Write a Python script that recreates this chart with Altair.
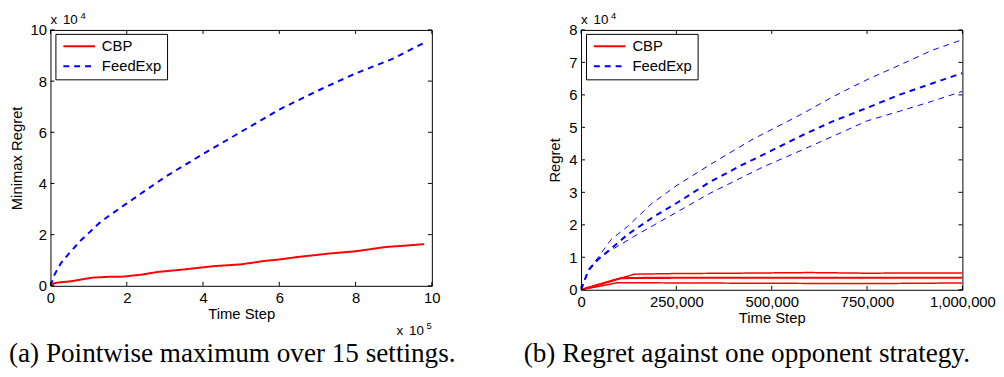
import altair as alt
import pandas as pd

# ---------------- Panel (a): pointwise maximum ----------------
a_cbp_t = [0, 10000, 20000, 50000, 70000, 110000, 150000, 190000, 240000, 280000, 350000,
           430000, 500000, 560000, 600000, 650000, 730000, 800000, 880000, 930000, 980000]
a_cbp_v = [0, 1000, 1300, 1700, 2200, 3200, 3500, 3600, 4400, 5400, 6400,
           7700, 8400, 9700, 10300, 11300, 12600, 13500, 15200, 15700, 16300]
a_fe_t = [0, 11000, 28000, 50000, 80000, 100000, 128000, 150000, 200000, 300000, 400000,
          500000, 600000, 700000, 800000, 900000, 980000]
a_fe_v = [0, 4500, 9000, 12900, 17800, 20600, 24500, 27000, 32200, 42500, 51500,
          60200, 68900, 76200, 83000, 88900, 95000]
a_xticks = [0, 200000, 400000, 600000, 800000, 1000000]
a_yticks = [0, 20000, 40000, 60000, 80000, 100000]

# ---------------- Panel (b): one opponent strategy ----------------
b_fe_up_t = [0, 19000, 45000, 79000, 122000, 185000, 252000, 356000, 451000, 511000,
             577000, 663000, 750000, 836000, 922000, 1000000]
b_fe_up_v = [0, 6200, 10000, 15500, 19500, 26500, 32200, 39800, 46400, 50000,
             54000, 59600, 64700, 69200, 73800, 77000]
b_fe_mid_t = [0, 19000, 45000, 71000, 97000, 122000, 192000, 252000, 338000, 425000,
              490000, 577000, 663000, 750000, 836000, 922000, 1000000]
b_fe_mid_v = [0, 5900, 9400, 11900, 14500, 17000, 22600, 26800, 33200, 38600,
              42300, 47400, 52000, 56000, 60100, 63600, 66700]
b_fe_low_t = [0, 19000, 45000, 71000, 105000, 150000, 209000, 338000, 477000, 577000,
              663000, 750000, 836000, 922000, 1000000]
b_fe_low_v = [0, 5900, 9400, 11700, 14000, 17200, 21100, 29700, 37800, 42900,
              47400, 52000, 55000, 58100, 61100]
b_cbp_up_t = [0, 140000, 250000, 400000, 600000, 750000, 900000, 1000000]
b_cbp_up_v = [0, 4800, 5000, 5100, 5300, 5100, 5200, 5200]
b_cbp_mid_t = [0, 105000, 250000, 500000, 750000, 1000000]
b_cbp_mid_v = [0, 3600, 3700, 3700, 3700, 3700]
b_cbp_low_t = [0, 97000, 250000, 500000, 750000, 1000000]
b_cbp_low_v = [0, 2200, 2100, 2000, 1900, 2100]
b_xticks = [0, 250000, 500000, 750000, 1000000]
b_yticks = [0, 10000, 20000, 30000, 40000, 50000, 60000, 70000, 80000]

series = ["CBP", "FeedExp"]
colors = ["#ff0000", "#0000ff"]
dashes = [[1, 0], [6, 5]]

caption_a = "(a)  Pointwise maximum over 15 settings."
caption_b = "(b)  Regret against one opponent strategy."

SANS = "Liberation Sans"
SERIF = "Liberation Serif"

W = 386
HA = 259
HB = 263


def frame_df(t, v, s, run, w):
    return pd.DataFrame({"t": t, "v": v, "series": s, "run": run, "w": w})


df_a = pd.concat([
    frame_df(a_cbp_t, a_cbp_v, "CBP", "a", 2),
    frame_df(a_fe_t, a_fe_v, "FeedExp", "b", 2),
])
df_b = pd.concat([
    frame_df(b_cbp_up_t, b_cbp_up_v, "CBP", "c1", 1.5),
    frame_df(b_cbp_mid_t, b_cbp_mid_v, "CBP", "c2", 2.2),
    frame_df(b_cbp_low_t, b_cbp_low_v, "CBP", "c3", 1.5),
    frame_df(b_fe_up_t, b_fe_up_v, "FeedExp", "f1", 1),
    frame_df(b_fe_mid_t, b_fe_mid_v, "FeedExp", "f2", 2),
    frame_df(b_fe_low_t, b_fe_low_v, "FeedExp", "f3", 1),
])


def panel(df, H, xdom, ydom, xticks, yticks, xaxis, yaxis, caption, cap_x, extras):
    xs = alt.Scale(domain=xdom, nice=False, zero=False)
    ys = alt.Scale(domain=ydom, nice=False, zero=False)
    leg = alt.Legend(title=None, orient="none", legendX=5, legendY=4)
    lines = alt.Chart(df).mark_line(clip=True).encode(
        x=alt.X("t:Q", scale=xs, axis=xaxis),
        y=alt.Y("v:Q", scale=ys, axis=yaxis),
        color=alt.Color("series:N", scale=alt.Scale(domain=series, range=colors), legend=leg),
        strokeDash=alt.StrokeDash("series:N", scale=alt.Scale(domain=series, range=dashes), legend=leg),
        strokeWidth=alt.StrokeWidth("w:Q", scale=None, legend=None),
        detail="run:N",
    )
    xt = pd.DataFrame({"t": xticks})
    yt = pd.DataFrame({"v": yticks})
    tb = alt.Chart(xt).mark_rule(color="black", strokeWidth=1).encode(
        x=alt.X("t:Q", scale=xs, axis=xaxis), y=alt.value(H), y2=alt.value(H - 4))
    tt = alt.Chart(xt).mark_rule(color="black", strokeWidth=1).encode(
        x=alt.X("t:Q", scale=xs, axis=xaxis), y=alt.value(0), y2=alt.value(4))
    tl = alt.Chart(yt).mark_rule(color="black", strokeWidth=1).encode(
        y=alt.Y("v:Q", scale=ys, axis=yaxis), x=alt.value(0), x2=alt.value(4))
    tr = alt.Chart(yt).mark_rule(color="black", strokeWidth=1).encode(
        y=alt.Y("v:Q", scale=ys, axis=yaxis), x=alt.value(W - 4), x2=alt.value(W))
    texts = []
    for (txt, x, y, size, font) in extras + [(caption, cap_x, 336, 27.5, SERIF)]:
        texts.append(
            alt.Chart(pd.DataFrame({"label": [txt]})).mark_text(
                align="left", baseline="alphabetic", fontSize=size, font=font, color="black"
            ).encode(text="label:N", x=alt.value(x), y=alt.value(y))
        )
    return alt.layer(lines, tb, tt, tl, tr, *texts).properties(width=W, height=H)


def expo(x0, y0, sup):
    return [("x", x0, y0, 13.5, SANS), ("10", x0 + 12.6, y0, 13.5, SANS), (sup, x0 + 30.3, y0 - 5.5, 9.5, SANS)]


left = panel(
    df_a, HA, [0, 1000000], [0, 100000], a_xticks, a_yticks,
    alt.Axis(values=a_xticks, labelExpr="datum.value / 100000", title="Time Step"),
    alt.Axis(values=a_yticks, labelExpr="datum.value / 10000", title="Minimax Regret"),
    caption_a, -42,
    expo(0, -5.7, "4") + expo(350.3, 308.3, "5"),
)
right = panel(
    df_b, HB, [0, 1000000], [0, 80000], b_xticks, b_yticks,
    alt.Axis(values=b_xticks, format=",d", title="Time Step"),
    alt.Axis(values=b_yticks, labelExpr="datum.value / 10000", title="Regret"),
    caption_b, -58,
    expo(0, -5.7, "4"),
)

chart = alt.hconcat(left, right, spacing=60).resolve_scale(
    color="independent", strokeDash="independent", x="independent", y="independent"
).properties(padding=0).configure_view(
    stroke="black", strokeWidth=1
).configure_axis(
    ticks=False, tickSize=0, domain=False, grid=False, labelFlush=False,
    labelFont=SANS, labelFontSize=15, labelColor="black",
    titleFont=SANS, titleFontSize=15, titleFontWeight="normal", titleColor="black",
).configure_axisX(labelPadding=5, titlePadding=1).configure_axisY(
    labelPadding=4, titlePadding=6
).configure_legend(
    strokeColor="black", fillColor="white", padding=5, clipHeight=15, rowPadding=4.3,
    symbolSize=1024, symbolStrokeWidth=2, symbolType="stroke", symbolOffset=2,
    labelFont=SANS, labelFontSize=15, labelColor="black", labelOffset=6,
)

chart.save("out.html", embed_options={"renderer": "svg", "actions": False})
